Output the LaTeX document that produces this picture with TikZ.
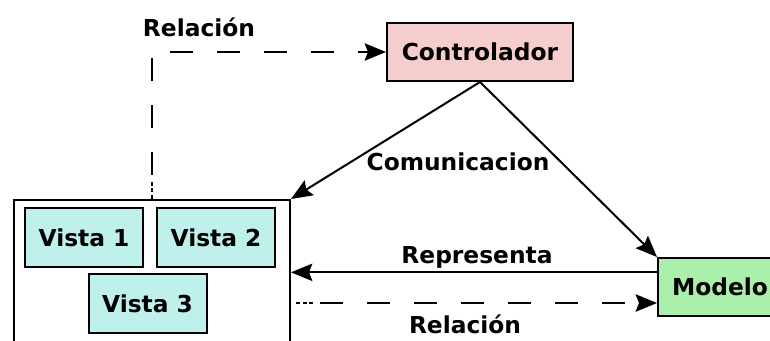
\documentclass[tikz,border=0pt]{standalone}
\usepackage{fontspec}
\setmainfont{DejaVu Sans}
\usetikzlibrary{arrows.meta}
\definecolor{ctrlpink}{RGB}{245,205,205}
\definecolor{modgreen}{RGB}{170,240,170}
\definecolor{vistacyan}{RGB}{192,240,236}
\begin{document}
\begin{tikzpicture}[
  x=0.75pt, y=-0.75pt,
  font=\fontsize{17.5}{21}\selectfont\bfseries,
  line width=1.5pt,
  arr/.style={-{Stealth[length=16pt,width=13pt,inset=2.5pt]}},
  box/.style={draw, line width=1.5pt, inner sep=0pt},
  vista/.style={box, fill=vistacyan, minimum width=88.5pt, minimum height=44pt},
  rel/.style={arr, dash pattern=on 3pt off 2pt on 3pt off 2pt on 3pt off 5pt
    on 17.25pt off 18pt on 17.25pt off 18pt on 17.25pt off 18pt on 17.25pt off 18pt
    on 17.25pt off 18pt on 17.25pt off 18pt on 17.25pt off 18pt on 17.25pt off 18pt},
  lbl/.style={anchor=base, inner sep=0pt}
]
\useasboundingbox (0,0) rectangle (770,340);

% Boxes
\node[box, fill=ctrlpink, minimum width=139.5pt, minimum height=43.5pt] (controlador) at (480,52) {Controlador};
\node[box, fill=modgreen, minimum width=93pt, minimum height=43.5pt] (modelo) at (720,287) {Modelo};
\node[box, anchor=north west, minimum width=207pt, minimum height=128pt] (vistas) at (13,199) {};

% Views
\node[vista] (vista1) at (84,237.5) {Vista 1};
\node[vista] (vista2) at (216,237.5) {Vista 2};
\node[vista] (vista3) at (147.5,303.5) {Vista 3};

% Connectors
\draw[rel] (vistas.north) |- (controlador.west);
\draw[arr] (controlador.south) -- (vistas.north east);
\draw[arr] (controlador.south) -- (modelo.north west);
\coordinate (rep) at ([yshift=11pt]modelo.west);
\draw[arr] (rep) -- (rep -| vistas.east);
\coordinate (relm) at ([yshift=-12pt]modelo.west);
\coordinate (rels) at (relm -| vistas.east);
\draw[rel] ([xshift=3.75pt]rels) -- (relm);

% Labels
\node[lbl] (relacion1) at (199,36) {Relación};
\node[lbl] (comunicacion) at (458,170) {Comunicacion};
\node[lbl] (representa) at (477,263) {Representa};
\node[lbl] (relacion2) at (465,333) {Relación};

\end{tikzpicture}
\end{document}
